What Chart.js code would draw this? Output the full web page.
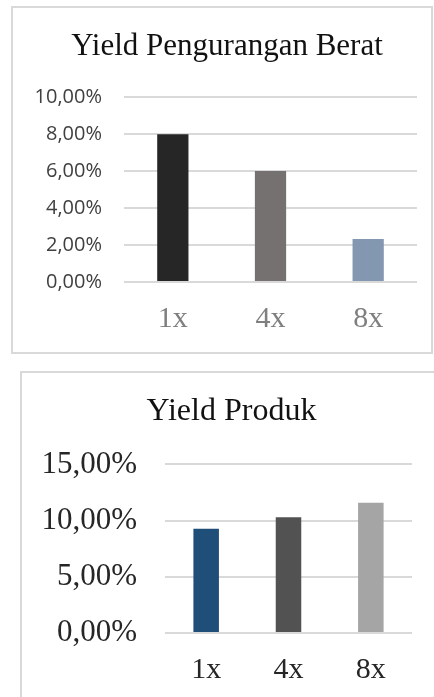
<!DOCTYPE html>
<html>
<head>
<meta charset="utf-8">
<script src="https://cdn.jsdelivr.net/npm/chart.js@4.4.1/dist/chart.umd.min.js"></script>
<style>
  body { margin: 0; background: #fff; width: 434px; height: 697px; overflow: hidden; position: relative; }
  .frame { position: absolute; border: 2px solid #d9d9d9; box-sizing: border-box; }
  .wrap { position: absolute; }
</style>
</head>
<body>
<div class="frame" style="left:11px; top:6px; width:422px; height:348px;"></div>
<div class="frame" style="left:20px; top:371px; width:440px; height:400px;"></div>
<div class="wrap" style="left:0; top:0; width:434px; height:355px;"><canvas id="weightChart"></canvas></div>
<div class="wrap" style="left:0; top:360px; width:434px; height:337px;"><canvas id="productChart"></canvas></div>
<script>
const categories = ['1x', '4x', '8x'];

// Yield Pengurangan Berat (%)
const weightLossYield = [8.00, 6.00, 2.33];
const weightColors = ['#262626', '#767171', '#8497b0'];
const weightTicks = [0, 2, 4, 6, 8, 10];

// Yield Produk (%)
const productYield = [9.28, 10.30, 11.58];
const productColors = ['#1f4e79', '#525252', '#a5a5a5'];
const productTicks = [0, 5, 10, 15];

function pctLabel(value) {
    return value.toFixed(2).replace('.', ',') + '%';
}

function fixWidth(w) {
    return function(scale) { scale.width = w; };
}

function fixHeight(h) {
    return function(scale) { scale.height = h; };
}

// nudges the title sideways so it sits centred in the frame like the original
function titleShift(dx) {
    return {
        id: 'titleShift',
        afterLayout(chart) {
            if (chart.titleBlock) {
                chart.titleBlock.left += dx;
                chart.titleBlock.right += dx;
            }
        }
    };
}

const weightCtx = document.getElementById('weightChart').getContext('2d');
const productCtx = document.getElementById('productChart').getContext('2d');

new Chart(weightCtx, {
    type: 'bar',
    data: {
        labels: categories,
        datasets: [{
            data: weightLossYield,
            backgroundColor: weightColors,
            categoryPercentage: 1,
            barPercentage: 0.32
        }]
    },
    options: {
        responsive: true,
        maintainAspectRatio: false,
        animation: false,
        layout: { padding: { left: 20, right: 17, top: 0, bottom: 26 } },
        plugins: {
            legend: { display: false },
            tooltip: { enabled: false },
            title: {
                display: true,
                text: 'Yield Pengurangan Berat',
                color: '#111',
                font: { family: 'Liberation Serif', size: 31, weight: 'normal', lineHeight: 1.2 },
                padding: { top: 28, bottom: 32 }
            }
        },
        scales: {
            x: {
                afterFit: fixHeight(47),
                grid: { display: false },
                border: { display: false },
                ticks: {
                    color: '#7f7f7f',
                    padding: 11,
                    font: { family: 'Liberation Serif', size: 30, lineHeight: 1.2 }
                }
            },
            y: {
                min: weightTicks[0],
                max: weightTicks[weightTicks.length - 1],
                afterFit: fixWidth(104),
                afterBuildTicks: function(scale) { scale.ticks = weightTicks.map(v => ({ value: v })); },
                grid: { color: '#d9d9d9', lineWidth: 2, drawTicks: false },
                border: { display: false },
                ticks: {
                    color: '#404040',
                    padding: 22,
                    font: { family: 'Open Sans', size: 20 },
                    callback: pctLabel
                }
            }
        }
    },
    plugins: [titleShift(8.5)]
});

new Chart(productCtx, {
    type: 'bar',
    data: {
        labels: categories,
        datasets: [{
            data: productYield,
            backgroundColor: productColors,
            categoryPercentage: 1,
            barPercentage: 0.31
        }]
    },
    options: {
        responsive: true,
        maintainAspectRatio: false,
        animation: false,
        layout: { padding: { left: 21, right: 22, top: 0, bottom: 17 } },
        plugins: {
            legend: { display: false },
            tooltip: { enabled: false },
            title: {
                display: true,
                text: 'Yield Produk',
                color: '#111',
                font: { family: 'Liberation Serif', size: 32, weight: 'normal', lineHeight: 1.2 },
                padding: { top: 32, bottom: 34 }
            }
        },
        scales: {
            x: {
                afterFit: fixHeight(47),
                grid: { display: false },
                border: { display: false },
                ticks: {
                    color: '#262626',
                    padding: 11,
                    font: { family: 'Liberation Serif', size: 30, lineHeight: 1.2 }
                }
            },
            y: {
                min: productTicks[0],
                max: productTicks[productTicks.length - 1],
                afterFit: fixWidth(144),
                afterBuildTicks: function(scale) { scale.ticks = productTicks.map(v => ({ value: v })); },
                grid: { color: '#d9d9d9', lineWidth: 2, drawTicks: false },
                border: { display: false },
                ticks: {
                    color: '#262626',
                    padding: 28,
                    font: { family: 'Liberation Serif', size: 31 },
                    callback: pctLabel
                }
            }
        }
    },
    plugins: [titleShift(15)]
});
</script>
</body>
</html>
